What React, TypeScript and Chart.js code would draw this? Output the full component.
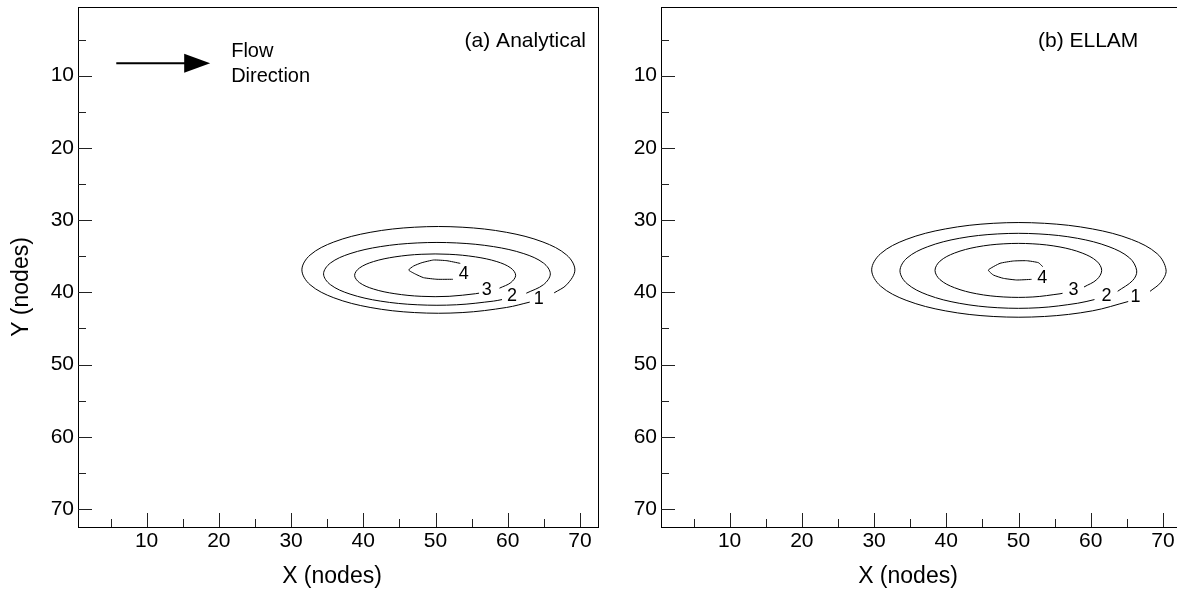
import { useEffect, useRef } from "react";
import { Chart, registerables } from "chart.js";

Chart.register(...registerables);

type Pt = [number, number];

const FONT = '"Liberation Sans", Arial, Helvetica, sans-serif';

// Grid extents (cell-centred node indices) and tick values
const AXIS_MIN = 0.5;
const AXIS_MAX = 72.5;
const MAJOR_TICKS = [10, 20, 30, 40, 50, 60, 70];
const MINOR_TICKS = [5, 15, 25, 35, 45, 55, 65];

const CONTOUR_LEVELS = [1, 2, 3, 4];

// (a) Analytical solution: contour polylines [x, y] in nodes
const ANALYTICAL_C1: Pt[] = [
  [66.43, 40.08], [68.17, 38.95], [69.3, 36.9], [68.17, 34.85], [64.88, 33.04],
  [59.85, 31.7], [53.69, 30.99], [47.11, 30.99], [40.95, 31.7], [35.92, 33.04],
  [32.63, 34.85], [31.5, 36.9], [32.63, 38.95], [35.92, 40.76], [40.95, 42.1],
  [47.11, 42.81], [53.69, 42.81], [59.85, 42.1], [63.05, 41.36],
];
const ANALYTICAL_C2: Pt[] = [
  [62.57, 40.13], [64.96, 38.94], [65.9, 37.45], [64.96, 35.96], [62.23, 34.65],
  [58.05, 33.68], [52.93, 33.17], [47.47, 33.17], [42.35, 33.68], [38.17, 34.65],
  [35.44, 35.96], [34.5, 37.45], [35.44, 38.94], [38.17, 40.25], [42.35, 41.22],
  [47.47, 41.73], [52.93, 41.73], [58.05, 41.22], [59.21, 41.01],
];
const ANALYTICAL_C3: Pt[] = [
  [58.86, 39.43], [60.43, 38.66], [61.1, 37.65], [60.43, 36.64], [58.49, 35.75],
  [55.53, 35.1], [51.89, 34.74], [48.01, 34.74], [44.38, 35.1], [41.41, 35.75],
  [39.47, 36.64], [38.8, 37.65], [39.47, 38.66], [41.41, 39.55], [44.38, 40.2],
  [48.01, 40.56], [51.89, 40.56], [55.53, 40.2], [56.03, 40.12],
];
const ANALYTICAL_C4: Pt[] = [
  [53.43, 36.0], [51.58, 35.63], [49.74, 35.53], [48.12, 35.9], [46.97, 36.36],
  [46.28, 36.92], [47.2, 37.47], [48.35, 37.98], [50.2, 38.2], [52.4, 38.2],
];
const ANALYTICAL_LABEL_POS: Pt[] = [[64.3, 40.9], [60.6, 40.5], [57.1, 39.7], [53.9, 37.5]];

// (b) ELLAM solution: contour polylines [x, y] in nodes
const ELLAM_C1: Pt[] = [
  [68.21, 39.87], [69.74, 38.6], [70.43, 36.9], [69.2, 34.66], [65.66, 32.69],
  [60.24, 31.23], [53.6, 30.45], [46.5, 30.45], [39.86, 31.23], [34.44, 32.69],
  [30.9, 34.66], [29.67, 36.9], [30.9, 39.14], [34.44, 41.11], [39.86, 42.57],
  [46.5, 43.35], [53.6, 43.35], [60.24, 42.57], [65.19, 41.28],
];
const ELLAM_C2: Pt[] = [
  [63.73, 39.86], [65.81, 38.37], [66.37, 37.03], [65.39, 35.25], [62.53, 33.69],
  [58.18, 32.53], [52.83, 31.92], [47.13, 31.92], [41.79, 32.53], [37.43, 33.69],
  [34.57, 35.25], [33.59, 37.03], [34.57, 38.81], [37.43, 40.37], [41.79, 41.52],
  [47.13, 42.14], [52.83, 42.14], [58.18, 41.52], [60.52, 41.01],
];
const ELLAM_C3: Pt[] = [
  [59.07, 39.27], [60.83, 38.25], [61.52, 36.97], [60.83, 35.69], [58.82, 34.57],
  [55.75, 33.73], [51.99, 33.29], [47.97, 33.29], [44.21, 33.73], [41.14, 34.57],
  [39.13, 35.69], [38.44, 36.97], [39.13, 38.25], [41.14, 39.37], [44.21, 40.21],
  [47.97, 40.65], [51.99, 40.65], [55.75, 40.21], [56.1, 40.14],
];
const ELLAM_C4: Pt[] = [
  [53.35, 36.45], [52.75, 35.9], [51.13, 35.63], [49.28, 35.67], [47.44, 35.99],
  [45.82, 36.92], [46.52, 37.61], [47.9, 38.07], [49.75, 38.3], [51.8, 38.21],
];
const ELLAM_LABEL_POS: Pt[] = [[66.2, 40.6], [62.2, 40.5], [57.6, 39.7], [53.3, 38.0]];

// Flow direction arrow, [x, y] in nodes
const FLOW_ARROW_START: Pt = [5.8, 8.3];
const FLOW_ARROW_TIP: Pt = [18.8, 8.3];

interface PanelSpec {
  title: string;
  contours: Pt[][];
  labelPos: Pt[];
  showYTitle: boolean;
  showArrow: boolean;
}

interface PanelLayout {
  yAxisWidth: number;
  padRight: number;
  titleX: number;
  titleAlign: CanvasTextAlign;
  xTitleX: number;
}

function makeDecor(panel: PanelSpec, layout: PanelLayout) {
  return {
    id: "panelDecor",
    afterDraw(chart: any) {
      const { ctx, chartArea: a, scales } = chart;
      const sx = scales.x;
      const sy = scales.y;
      ctx.save();

      // frame
      ctx.strokeStyle = "#000";
      ctx.lineWidth = 1;
      ctx.strokeRect(a.left + 0.5, a.top + 0.5, a.right - a.left, a.bottom - a.top);

      // inward tick marks
      const tick = (v: number, len: number) => {
        const px = Math.round(sx.getPixelForValue(v)) + 0.5;
        ctx.beginPath();
        ctx.moveTo(px, a.bottom);
        ctx.lineTo(px, a.bottom - len);
        ctx.stroke();
        const py = Math.round(sy.getPixelForValue(v)) + 0.5;
        ctx.beginPath();
        ctx.moveTo(a.left, py);
        ctx.lineTo(a.left + len, py);
        ctx.stroke();
      };
      ctx.strokeStyle = "#222";
      MAJOR_TICKS.forEach((v) => tick(v, 14));
      MINOR_TICKS.forEach((v) => tick(v, 8));

      // contour level labels
      ctx.fillStyle = "#000";
      ctx.font = `18px ${FONT}`;
      ctx.textAlign = "center";
      ctx.textBaseline = "middle";
      panel.labelPos.forEach(([lx, ly], i) => {
        ctx.fillText(String(CONTOUR_LEVELS[i]), sx.getPixelForValue(lx), sy.getPixelForValue(ly));
      });

      // panel title
      ctx.font = `21px ${FONT}`;
      ctx.textAlign = layout.titleAlign;
      ctx.textBaseline = "alphabetic";
      ctx.fillText(panel.title, layout.titleX, 46.5);

      // axis titles
      ctx.font = `23px ${FONT}`;
      ctx.textAlign = "center";
      ctx.textBaseline = "middle";
      ctx.fillText("X (nodes)", layout.xTitleX, 577);
      if (panel.showYTitle) {
        ctx.save();
        ctx.translate(22, 287);
        ctx.rotate(-Math.PI / 2);
        ctx.fillText("Y (nodes)", 0, 0);
        ctx.restore();
      }

      // flow direction arrow
      if (panel.showArrow) {
        const x0 = sx.getPixelForValue(FLOW_ARROW_START[0]);
        const y0 = sy.getPixelForValue(FLOW_ARROW_START[1]);
        const x1 = sx.getPixelForValue(FLOW_ARROW_TIP[0]);
        const y1 = sy.getPixelForValue(FLOW_ARROW_TIP[1]);
        const headLen = 26;
        const headHalf = 9.5;
        ctx.strokeStyle = "#000";
        ctx.lineWidth = 2;
        ctx.beginPath();
        ctx.moveTo(x0, y0);
        ctx.lineTo(x1 - headLen + 1, y1);
        ctx.stroke();
        ctx.beginPath();
        ctx.moveTo(x1, y1);
        ctx.lineTo(x1 - headLen, y1 - headHalf);
        ctx.lineTo(x1 - headLen, y1 + headHalf);
        ctx.closePath();
        ctx.fill();
        ctx.font = `20px ${FONT}`;
        ctx.textAlign = "left";
        ctx.textBaseline = "alphabetic";
        ctx.fillText("Flow", x1 + 21, y1 - 6);
        ctx.fillText("Direction", x1 + 21, y1 + 18.5);
      }
      ctx.restore();
    },
  };
}

function buildChart(canvas: HTMLCanvasElement, panel: PanelSpec, layout: PanelLayout) {
  const datasets = panel.contours.map((pts, i) => ({
    label: String(CONTOUR_LEVELS[i]),
    data: pts.map(([x, y]) => ({ x, y })),
    showLine: true,
    fill: false,
    borderColor: "#000",
    borderWidth: 1,
    pointRadius: 0,
    tension: i === 3 ? 0.15 : 0.35,
  }));
  const tickFont = { family: FONT, size: 21 };
  return new Chart(canvas, {
    type: "scatter",
    data: { datasets },
    options: {
      responsive: false,
      animation: false,
      devicePixelRatio: 1,
      events: [],
      layout: { padding: { top: 7, right: layout.padRight, left: 0, bottom: 0 } },
      plugins: { legend: { display: false }, tooltip: { enabled: false } },
      scales: {
        x: {
          type: "linear",
          position: "bottom",
          min: AXIS_MIN,
          max: AXIS_MAX,
          afterBuildTicks: (s: any) => {
            s.ticks = MAJOR_TICKS.map((v) => ({ value: v }));
          },
          afterFit: (s: any) => {
            s.height = 65;
            s.paddingLeft = 0;
            s.paddingRight = 0;
          },
          grid: { display: false, drawTicks: false },
          border: { display: false },
          ticks: { padding: 2, color: "#000", font: tickFont, maxRotation: 0, autoSkip: false },
        },
        y: {
          type: "linear",
          position: "left",
          reverse: true,
          min: AXIS_MIN,
          max: AXIS_MAX,
          afterBuildTicks: (s: any) => {
            s.ticks = MAJOR_TICKS.map((v) => ({ value: v }));
          },
          afterFit: (s: any) => {
            s.width = layout.yAxisWidth;
            s.paddingTop = 0;
            s.paddingBottom = 0;
          },
          grid: { display: false, drawTicks: false },
          border: { display: false },
          ticks: { padding: 4, color: "#000", font: tickFont, autoSkip: false },
        },
      },
    } as any,
    plugins: [makeDecor(panel, layout)],
  });
}

const PANEL_A: PanelSpec = {
  title: "(a) Analytical",
  contours: [ANALYTICAL_C1, ANALYTICAL_C2, ANALYTICAL_C3, ANALYTICAL_C4],
  labelPos: ANALYTICAL_LABEL_POS,
  showYTitle: true,
  showArrow: true,
};

const PANEL_B: PanelSpec = {
  title: "(b) ELLAM",
  contours: [ELLAM_C1, ELLAM_C2, ELLAM_C3, ELLAM_C4],
  labelPos: ELLAM_LABEL_POS,
  showYTitle: false,
  showArrow: false,
};

export default function App() {
  const leftRef = useRef<HTMLCanvasElement>(null);
  const rightRef = useRef<HTMLCanvasElement>(null);

  useEffect(() => {
    const a = buildChart(leftRef.current!, PANEL_A, {
      yAxisWidth: 78,
      padRight: 2,
      titleX: 586,
      titleAlign: "right",
      xTitleX: 332,
    });
    const b = buildChart(rightRef.current!, PANEL_B, {
      yAxisWidth: 61,
      padRight: 19,
      titleX: 438,
      titleAlign: "left",
      xTitleX: 308,
    });
    return () => {
      a.destroy();
      b.destroy();
    };
  }, []);

  return (
    <div
      style={{
        position: "absolute",
        left: 0,
        top: 0,
        width: 1177,
        height: 592,
        overflow: "hidden",
        background: "#fff",
      }}
    >
      <canvas ref={leftRef} width={600} height={592} style={{ position: "absolute", left: 0, top: 0 }} />
      <canvas ref={rightRef} width={600} height={592} style={{ position: "absolute", left: 600, top: 0 }} />
    </div>
  );
}
